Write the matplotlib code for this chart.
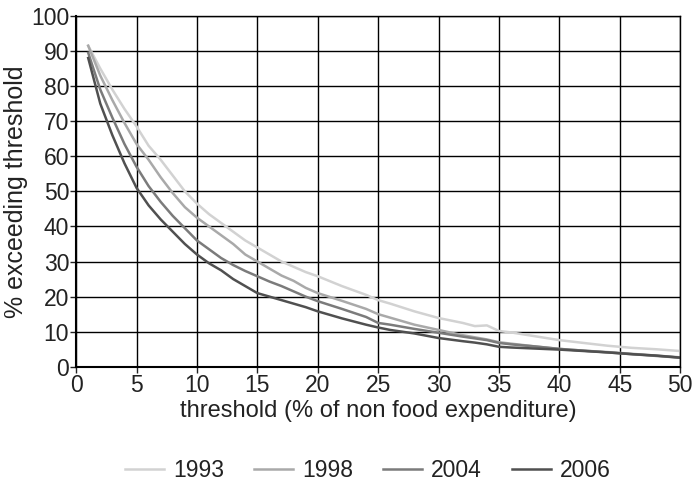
import matplotlib
matplotlib.use('Agg')
import matplotlib.pyplot as plt

plt.rcParams['font.family'] = ['Liberation Sans', 'DejaVu Sans']

# Данные (оценка по рисунку)
x_vals = [1, 2, 3, 4, 5, 6, 7, 8, 9, 10, 11, 12, 13, 14, 15, 16, 17, 18, 19, 20,
          22, 24, 25, 26, 28, 30, 32, 33, 34, 35, 36, 38, 40, 42, 44, 46, 48, 50]

y_1993 = [91.5, 85, 79, 73.5, 68.5, 63, 59, 54.5, 50, 46.5, 43.5, 41, 38.5, 36, 34, 32, 30, 28.5, 27, 25.8,
          23, 20.5, 19, 18, 15.8, 13.9, 12.5, 11.6, 11.8, 10.2, 9.8, 8.7, 7.6, 6.8, 6.0, 5.4, 5.0, 4.5]
y_1998 = [91.5, 83, 76, 69.5, 63.5, 59, 54, 49.5, 45.5, 42.5, 40, 37.5, 35, 32, 30, 28, 26, 24.5, 22.5, 21,
          18.8, 16.5, 15, 14, 12, 10.5, 9, 8.4, 7.8, 7, 6.6, 5.8, 5.1, 4.6, 4.2, 3.7, 3.2, 2.7]
y_2004 = [89.5, 79, 71, 63.5, 57, 51.5, 47, 43, 39.5, 36, 33.5, 31, 29, 27.3, 25.8, 24.3, 23, 21.5, 20, 18.7,
          16.5, 14.2, 12.5, 12, 10.8, 9.7, 8.6, 8.1, 7.6, 6.8, 6.4, 5.8, 5.1, 4.6, 4.1, 3.6, 3.1, 2.6]
y_2006 = [88, 75, 66, 58, 51, 46, 42, 38.5, 35, 32, 29.5, 27.5, 25, 23, 21, 20, 19, 18, 17, 15.8,
          13.8, 12, 11.2, 10.5, 9.5, 8.2, 7.3, 6.9, 6.4, 5.7, 5.5, 5.2, 4.9, 4.5, 4.1, 3.6, 3.2, 2.6]

series = [("1993", y_1993, '#d2d2d2'),
          ("1998", y_1998, '#a9a9a9'),
          ("2004", y_2004, '#7b7b7b'),
          ("2006", y_2006, '#505050')]

fig = plt.figure(figsize=(6.92, 4.82), dpi=100, facecolor='white')
ax = fig.add_axes([0.110, 0.239, 0.873, 0.728])

for label, ys, color in series:
    ax.plot(x_vals, ys, color=color, linewidth=1.8, label=label)

ax.set_xlim(0, 50)
ax.set_ylim(0, 100)
ax.set_xticks(range(0, 51, 5))
ax.set_yticks(range(0, 101, 10))
ax.grid(True, color='black', linewidth=1.0)
ax.set_axisbelow(True)
for sp in ax.spines.values():
    sp.set_color('black')
    sp.set_linewidth(1.0)
ax.spines['left'].set_linewidth(1.5)
ax.spines['bottom'].set_linewidth(1.5)
ax.tick_params(direction='out', length=4, width=1, labelsize=16.5, colors='#222222', pad=1)

ax.set_xlabel("threshold (% of non food expenditure)", fontsize=17, color='#222222', labelpad=2)
ax.set_ylabel("% exceeding threshold", fontsize=18, color='#222222', labelpad=2)

ax.legend(loc='upper center', bbox_to_anchor=(0.483, -0.205), ncol=4, frameon=False,
          fontsize=16.5, handlelength=1.7, columnspacing=1.3, handletextpad=0.4,
          labelcolor='#222222')

fig.savefig('out.png', dpi=100, facecolor='white')
